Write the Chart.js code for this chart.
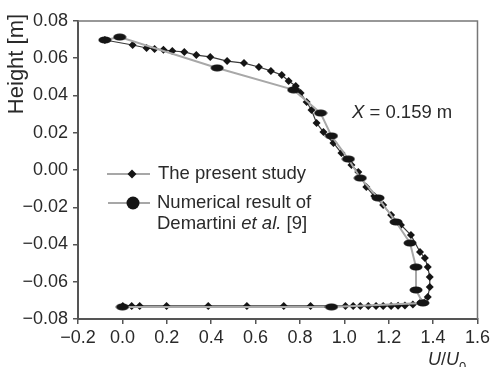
<!DOCTYPE html>
<html>
<head>
<meta charset="utf-8">
<script src="https://cdn.jsdelivr.net/npm/chart.js@4.4.0/dist/chart.umd.min.js"></script>
<style>
  html, body { margin: 0; padding: 0; background: #fff; }
</style>
</head>
<body>
<canvas id="c" width="493" height="367"></canvas>
<script>
// velocity profile at X = 0.159 m
const presentX = [-0.079, 0.046, 0.109, 0.145, 0.185, 0.225, 0.279, 0.333, 0.396, 0.472, 0.548, 0.615, 0.669, 0.718, 0.749, 0.781, 0.803, 0.830, 0.852,
  0.875, 0.906, 0.951, 0.987, 1.032, 1.063, 1.099, 1.135, 1.175, 1.211, 1.255, 1.300, 1.341, 1.363, 1.376, 1.385, 1.385, 1.376, 1.345,
  1.309, 1.273, 1.242, 1.211, 1.175, 1.143, 1.108, 1.072, 1.040, 1.005, 0.848, 0.727, 0.561, 0.387, 0.199, 0.078, 0.042, 0.002];
const presentY = [0.0698, 0.0671, 0.0655, 0.0650, 0.0645, 0.0639, 0.0634, 0.0617, 0.0607, 0.0585, 0.0574, 0.0553, 0.0532, 0.0510, 0.0478, 0.0451, 0.0413, 0.0365, 0.0322,
  0.0252, 0.0204, 0.0145, 0.0091, 0.0027, -0.0011, -0.0091, -0.0140, -0.0188, -0.0242, -0.0295, -0.0349, -0.0440, -0.0473, -0.0521, -0.0575, -0.0628, -0.0682, -0.0709,
  -0.0722, -0.0727, -0.0729, -0.0730, -0.0730, -0.0730, -0.0730, -0.0730, -0.0730, -0.0730, -0.0730, -0.0730, -0.0730, -0.0730, -0.0730, -0.0730, -0.0730, -0.0730];

const demX = [-0.079, -0.012, 0.427, 0.772, 0.893, 0.942, 1.018, 1.072, 1.152, 1.233, 1.296, 1.323, 1.323, 1.354, 0.942, 0.000];
const demY = [0.0698, 0.0714, 0.0548, 0.0430, 0.0306, 0.0183, 0.0059, -0.0043, -0.0150, -0.0279, -0.0392, -0.0521, -0.0644, -0.0714, -0.0735, -0.0735];

const xTicks = [-0.2, 0.0, 0.2, 0.4, 0.6, 0.8, 1.0, 1.2, 1.4, 1.6];
const yTicks = [-0.08, -0.06, -0.04, -0.02, 0.00, 0.02, 0.04, 0.06, 0.08];

const FONT = "'Liberation Sans', Arial, sans-serif";
const TXT = "#2a2a2a";

const pts = (xs, ys) => xs.map((x, i) => ({ x, y: ys[i] }));
const fmt = (v, d) => (v < -1e-9 ? "\u2212" : "") + Math.abs(v).toFixed(d);

// flattened oval marker for the Demartini series
function ovalMarker(w, h){
  const cv = document.createElement("canvas");
  cv.width = w; cv.height = h;
  const g = cv.getContext("2d");
  g.fillStyle = "#151515";
  g.beginPath();
  g.ellipse(w / 2, h / 2, w / 2 - 0.5, h / 2 - 0.5, 0, 0, Math.PI * 2);
  g.fill();
  return cv;
}

const frameAndNotes = {
  id: "frameAndNotes",
  beforeDatasetsDraw(chart){
    const { ctx, chartArea: a } = chart;
    ctx.save();
    ctx.strokeStyle = "#777";
    ctx.lineWidth = 1.5;
    ctx.beginPath();
    ctx.moveTo(a.left, a.top); ctx.lineTo(a.right, a.top); ctx.lineTo(a.right, a.bottom);
    ctx.stroke();
    ctx.restore();
  },
  afterDraw(chart){
    const ctx = chart.ctx;
    ctx.save();
    ctx.fillStyle = TXT;
    ctx.textBaseline = "middle";

    // y title, rotated, near the top
    ctx.save();
    ctx.translate(17, 64);
    ctx.rotate(-Math.PI / 2);
    ctx.textAlign = "center";
    ctx.font = "22px " + FONT;
    ctx.fillText("Height [m]", 0, 0);
    ctx.restore();

    // x title U/U0
    ctx.textAlign = "left";
    ctx.textBaseline = "alphabetic";
    ctx.font = "italic 18px " + FONT;
    let x = 428;
    ctx.fillText("U", x, 365); x += ctx.measureText("U").width;
    ctx.font = "18px " + FONT;
    ctx.fillText("/", x, 365); x += ctx.measureText("/").width;
    ctx.font = "italic 18px " + FONT;
    ctx.fillText("U", x, 365); x += ctx.measureText("U").width;
    ctx.font = "13px " + FONT;
    ctx.fillText("0", x, 371);

    // station label
    ctx.textBaseline = "middle";
    x = 352;
    ctx.font = "italic 18.5px " + FONT;
    ctx.fillText("X", x, 113); x += ctx.measureText("X").width;
    ctx.font = "18.5px " + FONT;
    ctx.fillText(" = 0.159 m", x, 113);

    // legend
    ctx.strokeStyle = "#8a8a8a";
    ctx.lineWidth = 1.5;
    ctx.beginPath(); ctx.moveTo(107, 174); ctx.lineTo(150, 174); ctx.stroke();
    ctx.beginPath(); ctx.moveTo(108, 203); ctx.lineTo(150, 203); ctx.stroke();
    ctx.fillStyle = "#151515";
    ctx.beginPath();
    ctx.moveTo(132, 169.5); ctx.lineTo(136.5, 174); ctx.lineTo(132, 178.5); ctx.lineTo(127.5, 174);
    ctx.closePath(); ctx.fill();
    ctx.beginPath(); ctx.arc(133, 203, 6.5, 0, Math.PI * 2); ctx.fill();

    ctx.fillStyle = TXT;
    ctx.font = "18.5px " + FONT;
    ctx.fillText("The present study", 158, 174);
    ctx.fillText("Numerical result of", 157, 203);
    x = 157;
    ctx.fillText("Demartini ", x, 224); x += ctx.measureText("Demartini ").width;
    ctx.font = "italic 18.5px " + FONT;
    ctx.fillText("et al.", x, 224); x += ctx.measureText("et al.").width;
    ctx.font = "18.5px " + FONT;
    ctx.fillText(" [9]", x, 224);
    ctx.restore();
  }
};

new Chart(document.getElementById("c"), {
  type: "line",
  data: {
    datasets: [
      {
        label: "Numerical result of Demartini et al. [9]",
        data: pts(demX, demY),
        borderColor: "#a8a8a8",
        borderWidth: 2,
        pointStyle: ovalMarker(14, 8),
        pointRadius: 5,
        tension: 0
      },
      {
        label: "The present study",
        data: pts(presentX, presentY),
        borderColor: "#3a3a3a",
        borderWidth: 1.2,
        pointStyle: "rectRot",
        pointRadius: 4,
        pointBackgroundColor: "#151515",
        pointBorderColor: "#151515",
        pointBorderWidth: 0,
        tension: 0
      }
    ]
  },
  options: {
    responsive: false,
    devicePixelRatio: 1,
    animation: false,
    layout: { padding: { top: 21, right: 13, left: 0, bottom: 0 } },
    plugins: { legend: { display: false }, tooltip: { enabled: false } },
    scales: {
      x: {
        type: "linear",
        min: -0.2, max: 1.6,
        afterFit(s){ s.height = 48; },
        afterBuildTicks(s){ s.ticks = xTicks.map(v => ({ value: v })); },
        ticks: { callback: v => fmt(v, 1), color: TXT, font: { family: FONT, size: 18 }, padding: 3, maxRotation: 0, autoSkip: false },
        grid: { drawOnChartArea: false, drawTicks: true, tickLength: 5, color: "#555", lineWidth: 1.5 },
        border: { display: true, color: "#555", width: 2 }
      },
      y: {
        type: "linear",
        min: -0.08, max: 0.08,
        afterFit(s){ s.width = 78; },
        afterBuildTicks(s){ s.ticks = yTicks.map(v => ({ value: v })); },
        ticks: { callback: v => fmt(v, 2), color: TXT, font: { family: FONT, size: 18 }, padding: 5, autoSkip: false },
        grid: { drawOnChartArea: false, drawTicks: true, tickLength: 5, color: "#555", lineWidth: 1.5 },
        border: { display: true, color: "#555", width: 2 }
      }
    }
  },
  plugins: [frameAndNotes]
});
</script>
</body>
</html>
